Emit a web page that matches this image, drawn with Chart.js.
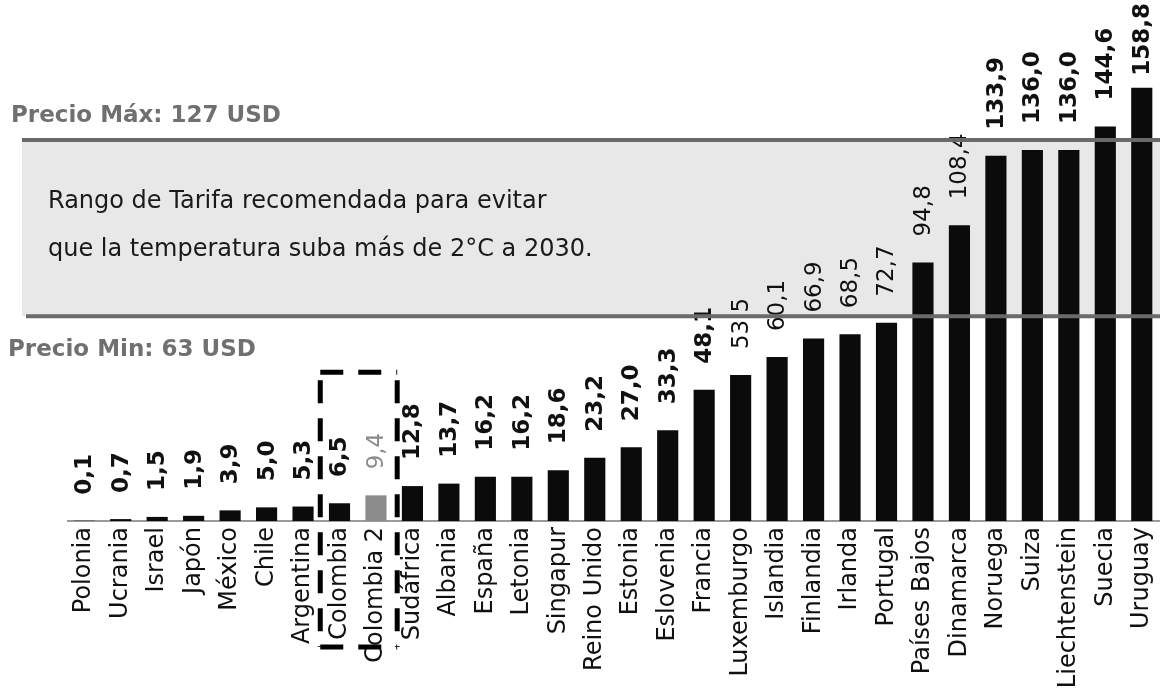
<!DOCTYPE html>
<html>
<head>
<meta charset="utf-8">
<script src="https://cdn.jsdelivr.net/npm/chart.js@4/dist/chart.umd.min.js"></script>
<style>
  html, body { margin: 0; padding: 0; background: #ffffff; }
  #wrap { width: 1160px; height: 691px; position: relative; }
</style>
</head>
<body>
<div id="wrap"><canvas id="c" width="1160" height="691"></canvas></div>
<script>
// ---- data ----
const categories = ["Polonia","Ucrania","Israel","Japón","México","Chile","Argentina","Colombia","Colombia 2","Sudáfrica","Albania","España","Letonia","Singapur","Reino Unido","Estonia","Eslovenia","Francia","Luxemburgo","Islandia","Finlandia","Irlanda","Portugal","Países Bajos","Dinamarca","Noruega","Suiza","Liechtenstein","Suecia","Uruguay"];
const prices = [0.1,0.7,1.5,1.9,3.9,5.0,5.3,6.5,9.4,12.8,13.7,16.2,16.2,18.6,23.2,27.0,33.3,48.1,53.5,60.1,66.9,68.5,72.7,94.8,108.4,133.9,136.0,136.0,144.6,158.8];
const highlighted = ["Colombia","Colombia 2"];
const grayBar = ["Colombia 2"];
// band lines as drawn in the picture (data units of the bar scale)
const bandTop = 139.7;
const bandBottom = 75.1;
const bandLabels = ["Precio Máx: 127 USD", "Precio Min: 63 USD"];
const bandText = ["Rango de Tarifa recomendada para evitar", "que la temperatura suba más de 2°C a 2030."];
const yMax = 191;

const fmt = v => v.toFixed(1).replace('.', ',');
const lightLabels = ["Luxemburgo","Islandia","Finlandia","Irlanda","Portugal","Países Bajos","Dinamarca"];

const bandPlugin = {
  id: 'band',
  beforeDatasetsDraw(chart) {
    const {ctx, scales:{y}} = chart;
    const yt = y.getPixelForValue(bandTop), yb = y.getPixelForValue(bandBottom);
    ctx.save();
    ctx.fillStyle = '#e8e8e8';
    ctx.fillRect(22, yt, 1160 - 22, yb - yt);
    ctx.fillStyle = '#1a1a1a';
    ctx.font = '24px "DejaVu Sans"';
    ctx.textBaseline = 'alphabetic';
    ctx.fillText(bandText[0], 48, yt + 68);
    ctx.fillText(bandText[1], 48, yt + 116);
    ctx.fillStyle = '#707070';
    ctx.font = 'bold 23px "DejaVu Sans"';
    ctx.fillText(bandLabels[0], 11, yt - 18);
    ctx.fillText(bandLabels[1], 8, yb + 40);
    // baseline
    const y0 = y.getPixelForValue(0);
    ctx.strokeStyle = '#9a9a9a';
    ctx.lineWidth = 2;
    ctx.beginPath(); ctx.moveTo(67, y0); ctx.lineTo(1160, y0); ctx.stroke();
    ctx.restore();
  },
  afterDatasetsDraw(chart) {
    const {ctx, scales:{x, y}} = chart;
    const meta = chart.getDatasetMeta(0);
    ctx.save();
    // value labels
    meta.data.forEach((bar, i) => {
      const txt = fmt(prices[i]);
      const isGray = grayBar.includes(categories[i]);
      const light = lightLabels.includes(categories[i]);
      ctx.font = (isGray || light ? '' : 'bold ') + '23px "DejaVu Sans"';
      ctx.fillStyle = isGray ? '#8a8a8a' : '#111';
      const w = ctx.measureText(txt).width;
      let base = bar.y - 26;
      base = Math.max(base, w + 3);
      ctx.save();
      ctx.translate(bar.x, base);
      ctx.rotate(-Math.PI / 2);
      ctx.textAlign = 'left';
      ctx.textBaseline = 'middle';
      ctx.fillText(txt, 0, 1);
      ctx.restore();
    });
    // band lines on top of the bars
    const yt = y.getPixelForValue(bandTop), yb = y.getPixelForValue(bandBottom);
    ctx.strokeStyle = '#6a6a6a';
    ctx.lineWidth = 4;
    ctx.beginPath(); ctx.moveTo(22, yt); ctx.lineTo(1160, yt); ctx.stroke();
    ctx.beginPath(); ctx.moveTo(26, yb); ctx.lineTo(1160, yb); ctx.stroke();
    ctx.restore();
  },
  afterDraw(chart) {
    const {ctx, scales:{x, y}} = chart;
    const i0 = categories.indexOf(highlighted[0]);
    const i1 = categories.indexOf(highlighted[highlighted.length - 1]);
    const left = x.getPixelForValue(i0 - 0.5) - 1;
    const right = x.getPixelForValue(i1 + 0.5) + 3;
    const top = y.getPixelForValue(54.5);
    const bottom = chart.chartArea.bottom + 126;
    ctx.save();
    ctx.strokeStyle = '#000';
    ctx.lineWidth = 5;
    ctx.setLineDash([23, 15]);
    ctx.beginPath(); ctx.moveTo(left, top); ctx.lineTo(right, top); ctx.stroke();
    ctx.beginPath(); ctx.moveTo(left, top + 8); ctx.lineTo(left, bottom); ctx.stroke();
    ctx.beginPath(); ctx.moveTo(right, top + 8); ctx.lineTo(right, bottom); ctx.stroke();
    ctx.beginPath(); ctx.moveTo(left, bottom); ctx.lineTo(right, bottom); ctx.stroke();
    ctx.restore();
  }
};

new Chart(document.getElementById('c'), {
  type: 'bar',
  data: {
    labels: categories,
    datasets: [{
      data: prices,
      backgroundColor: categories.map(c => grayBar.includes(c) ? '#8c8c8c' : '#0b0b0b'),
      borderWidth: 0,
      barPercentage: 0.58,
      categoryPercentage: 1.0
    }]
  },
  options: {
    responsive: false,
    animation: false,
    devicePixelRatio: 1,
    layout: { padding: { left: 66, right: 0, top: 0, bottom: 0 } },
    plugins: { legend: { display: false }, tooltip: { enabled: false }, title: { display: false } },
    scales: {
      x: {
        grid: { display: false, drawTicks: false },
        border: { display: false },
        ticks: {
          autoSkip: false, minRotation: 90, maxRotation: 90, padding: 6,
          color: '#111', font: { family: 'DejaVu Sans', size: 24 }
        },
        afterFit(scale) { scale.height = 170; scale.paddingLeft = 0; scale.paddingRight = 0; }
      },
      y: { display: false, min: 0, max: yMax }
    }
  },
  plugins: [bandPlugin]
});
</script>
</body>
</html>
